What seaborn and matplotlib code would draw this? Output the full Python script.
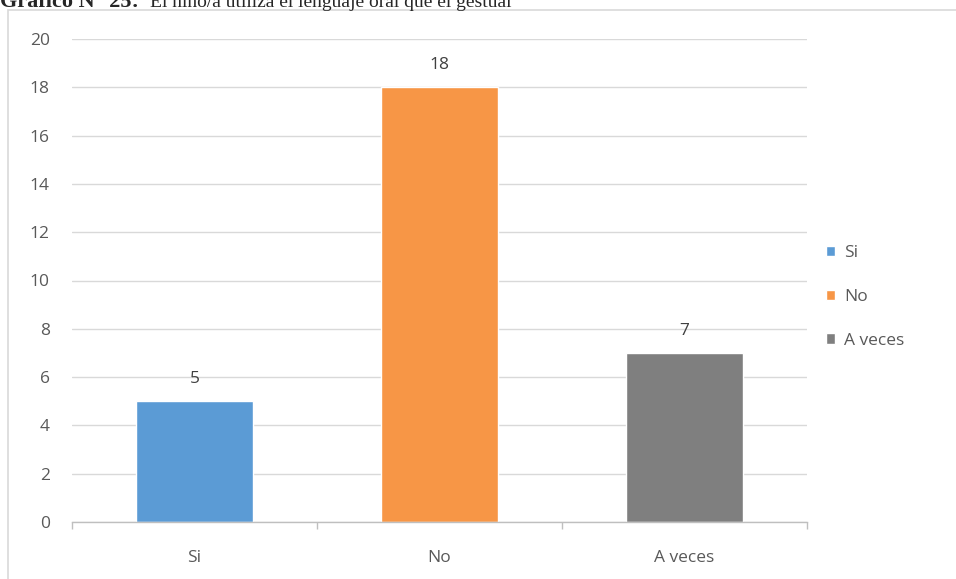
import matplotlib
matplotlib.use("Agg")
import matplotlib.pyplot as plt
import matplotlib.patches as mpatches
import seaborn as sns
import pandas as pd

# chart data
categories = ["Si", "No", "A veces"]
values = [5, 18, 7]
colors = ["#5B9BD5", "#F79646", "#7F7F7F"]

df = pd.DataFrame({"Respuesta": categories, "Cantidad": values})

sns.set_theme(style="white")
plt.rcParams["font.family"] = ["Open Sans", "DejaVu Sans"]

fig = plt.figure(figsize=(9.56, 5.79), dpi=100)
ax = fig.add_axes([72 / 956, 1 - 522 / 579, (807 - 72) / 956, (522 - 39) / 579])

sns.barplot(data=df, x="Respuesta", y="Cantidad", hue="Respuesta",
            palette=colors, width=0.48, ax=ax, legend=True, saturation=1)

ax.set_ylim(0, 20)
ax.set_yticks(range(0, 21, 2))
ax.set_xlim(-0.5, 2.5)
ax.yaxis.grid(True, color="#D9D9D9", linewidth=1)
ax.set_axisbelow(True)
ax.set_xlabel("")
ax.set_ylabel("")
for s in ["top", "right", "left"]:
    ax.spines[s].set_visible(False)
ax.spines["bottom"].set_color("#BFBFBF")
ax.spines["bottom"].set_linewidth(1)

ax.tick_params(axis="y", length=0, pad=16, labelsize=12.5, labelcolor="#595959")
ax.tick_params(axis="x", which="major", length=0, pad=20, labelsize=12.5, labelcolor="#595959")
ax.set_xticks([-0.5, 0.5, 1.5, 2.5], minor=True)
ax.tick_params(axis="x", which="minor", length=5, color="#BFBFBF", width=1, bottom=True)

for cont in ax.containers:
    ax.bar_label(cont, padding=10, fontsize=12.5, color="#404040")

handles, labels = ax.get_legend_handles_labels()
ax.legend(handles, labels, loc="center left", bbox_to_anchor=(810 / 956, 1 - 297 / 579),
          bbox_transform=fig.transFigure, frameon=False, handlelength=0.55,
          handleheight=0.55, handletextpad=0.5, labelspacing=1.6,
          fontsize=12.5, labelcolor="#595959")

# outer chart border (partly cut off by the crop)
fig.patches.append(mpatches.Rectangle((8 / 956, -0.1), 1.0, 1 - 10 / 579 + 0.1,
                                      transform=fig.transFigure, fill=False,
                                      edgecolor="#D9D9D9", linewidth=1.2))

# caption above the chart, clipped at the top edge like the source
fig.text(0, 1 - 7 / 579, "Gráfico N° 25:", fontsize=16, fontweight="bold",
         family="Liberation Serif", va="baseline", ha="left")
fig.text(150 / 956, 1 - 7 / 579, "El niño/a utiliza el lenguaje oral que el gestual",
         fontsize=14, family="Liberation Serif", va="baseline", ha="left")

fig.savefig("out.png", dpi=100)
